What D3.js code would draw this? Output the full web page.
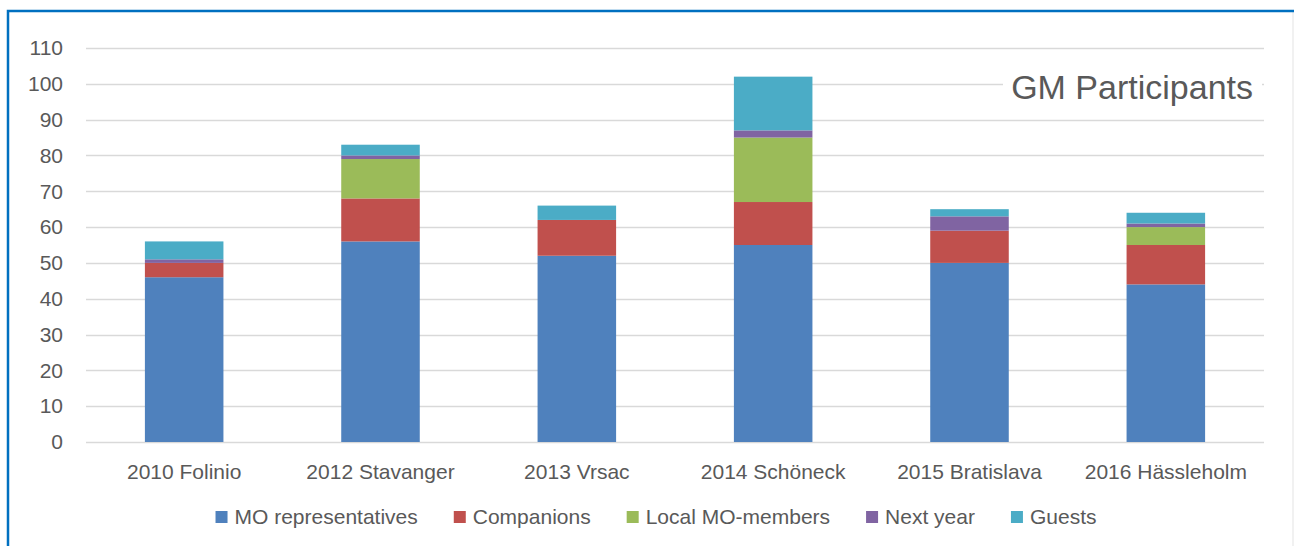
<!DOCTYPE html>
<html>
<head>
<meta charset="utf-8">
<script src="https://cdn.jsdelivr.net/npm/d3@7"></script>
<style>
  body { margin: 0; background: #fff; }
  svg { display: block; font-family: 'Liberation Sans', Arial, sans-serif; }
</style>
</head>
<body>
<script>
const categories = ['2010 Folinio', '2012 Stavanger', '2013 Vrsac', '2014 Schöneck', '2015 Bratislava', '2016 Hässleholm'];
const seriesNames = ['MO representatives', 'Companions', 'Local MO-members', 'Next year', 'Guests'];
const moReps = [46, 56, 52, 55, 50, 44];
const companions = [4, 12, 10, 12, 9, 11];
const localMembers = [0, 11, 0, 18, 0, 5];
const nextYear = [1, 1, 0, 2, 4, 1];
const guests = [5, 3, 4, 15, 2, 3];
const yTicks = [0, 10, 20, 30, 40, 50, 60, 70, 80, 90, 100, 110];
const colors = ['#4f81bd', '#c0504d', '#9bbb59', '#8064a2', '#4bacc6'];

const width = 1294;
const height = 546;
const margin = { top: 48, right: 30, bottom: 104, left: 86 };

const svg = d3.select('body')
  .append('svg')
  .attr('width', width)
  .attr('height', height);

// chart frame
svg.append('line')
  .attr('x1', 1293).attr('x2', 1293).attr('y1', 11).attr('y2', height)
  .attr('stroke', '#e3e3e3').attr('stroke-width', 1);
svg.append('path')
  .attr('d', `M8,${height} L8,11 L${width},11`)
  .attr('fill', 'none')
  .attr('stroke', '#0070c0')
  .attr('stroke-width', 2.5);

const rows = categories.map((c, i) => ({
  category: c,
  'MO representatives': moReps[i],
  'Companions': companions[i],
  'Local MO-members': localMembers[i],
  'Next year': nextYear[i],
  'Guests': guests[i]
}));

const stack = d3.stack().keys(seriesNames)(rows);

const x = d3.scaleBand()
  .domain(categories)
  .range([margin.left, width - margin.right])
  .paddingInner(0.6)
  .paddingOuter(0.3);

const y = d3.scaleLinear()
  .domain([0, 110])
  .range([height - margin.bottom, margin.top]);

// gridlines
svg.append('g')
  .selectAll('line')
  .data(yTicks)
  .join('line')
  .attr('x1', margin.left)
  .attr('x2', width - margin.right)
  .attr('y1', d => Math.round(y(d)) + 0.5)
  .attr('y2', d => Math.round(y(d)) + 0.5)
  .attr('stroke', '#d9d9d9')
  .attr('stroke-width', 1.5);

// y axis labels
const yAxis = svg.append('g')
  .attr('transform', `translate(${margin.left}, 0)`)
  .call(d3.axisLeft(y).tickValues(yTicks).tickSize(0).tickPadding(23));
yAxis.select('.domain').remove();
yAxis.selectAll('text')
  .attr('fill', '#595959')
  .style('font-size', '21px')
  .style('font-family', "'Liberation Sans', Arial, sans-serif");

// bars
svg.append('g')
  .selectAll('g')
  .data(stack)
  .join('g')
  .attr('fill', (d, i) => colors[i])
  .selectAll('rect')
  .data(d => d)
  .join('rect')
  .attr('x', d => x(d.data.category))
  .attr('width', x.bandwidth())
  .attr('y', d => y(d[1]))
  .attr('height', d => y(d[0]) - y(d[1]));

// x axis labels
const xAxis = svg.append('g')
  .attr('transform', `translate(0, ${height - margin.bottom})`)
  .call(d3.axisBottom(x).tickSize(0).tickPadding(22));
xAxis.select('.domain').remove();
xAxis.selectAll('text')
  .attr('fill', '#595959')
  .style('font-size', '21px')
  .style('font-family', "'Liberation Sans', Arial, sans-serif");

// title with white backing
const title = svg.append('g');
title.append('rect')
  .attr('x', 1003).attr('y', 66)
  .attr('width', 259).attr('height', 40)
  .attr('fill', '#fff');
title.append('text')
  .attr('x', 1253)
  .attr('y', 99)
  .attr('text-anchor', 'end')
  .attr('fill', '#595959')
  .style('font-size', '34px')
  .text('GM Participants');

// legend
const legend = svg.append('g');
const items = legend.selectAll('g')
  .data(seriesNames)
  .join('g');
items.append('rect')
  .attr('width', 12).attr('height', 12)
  .attr('y', 511)
  .attr('fill', (d, i) => colors[i]);
items.append('text')
  .attr('x', 19)
  .attr('y', 524)
  .attr('fill', '#595959')
  .style('font-size', '21px')
  .text(d => d);

let offset = 0;
const positions = [];
items.each(function () {
  const w = d3.select(this).select('text').node().getComputedTextLength();
  positions.push(offset);
  offset += 19 + w + 36;
});
const total = offset - 36;
const start = 656 - total / 2;
items.attr('transform', (d, i) => `translate(${start + positions[i]}, 0)`);
</script>
</body>
</html>
